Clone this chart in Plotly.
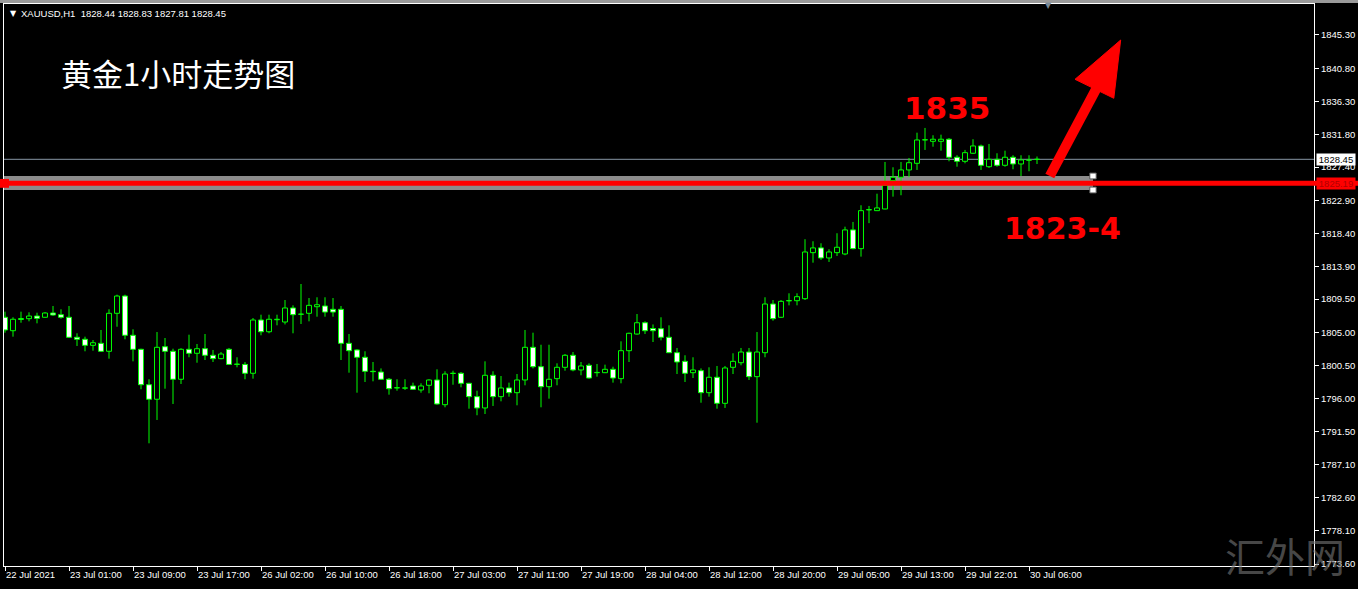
import plotly.graph_objects as go

# ---------------- data ----------------
open_ = [1807.04, 1805.22, 1806.74, 1806.85, 1807.21, 1807.04, 1807.62, 1807.39, 1807.04, 1804.33,
         1804.06, 1803.24, 1803.51, 1802.43, 1807.58, 1809.92, 1804.60, 1802.70, 1797.90, 1795.93,
         1803.05, 1802.43, 1798.64, 1802.70, 1802.16, 1802.78, 1801.89, 1801.43, 1802.70, 1800.65,
         1800.65, 1799.45, 1806.67, 1805.08, 1806.71, 1806.40, 1808.30, 1807.44, 1807.58, 1808.47,
         1808.57, 1808.12, 1808.12, 1803.51, 1802.61, 1801.62, 1799.72, 1799.62, 1798.64, 1797.46,
         1797.43, 1797.73, 1797.19, 1797.82, 1798.54, 1795.19, 1799.42, 1799.45, 1798.09, 1796.28,
         1794.75, 1799.18, 1796.28, 1797.46, 1796.82, 1798.54, 1802.97, 1800.34, 1797.63, 1798.72,
         1800.26, 1801.89, 1799.90, 1800.53, 1799.53, 1799.53, 1799.99, 1798.72, 1802.51, 1804.77,
         1806.30, 1805.52, 1805.49, 1804.33, 1802.24, 1801.07, 1799.53, 1799.80, 1796.82, 1798.91,
         1795.38, 1800.26, 1800.88, 1802.33, 1798.99, 1802.24, 1808.84, 1807.04, 1809.26, 1809.29,
         1809.56, 1815.80, 1816.44, 1815.08, 1815.80, 1815.62, 1818.88, 1816.34, 1821.59, 1821.49,
         1821.72, 1825.56, 1826.02, 1827.01, 1827.91, 1831.07, 1830.89, 1830.89, 1831.17, 1828.73,
         1828.18, 1829.27, 1830.26, 1827.45, 1828.45, 1827.64, 1828.73, 1827.82, 1828.33, 1828.44]
high = [1807.80, 1807.04, 1807.80, 1807.71, 1807.66, 1807.75, 1808.57, 1808.12, 1808.57, 1804.87,
        1804.41, 1803.96, 1805.32, 1808.12, 1810.10, 1810.10, 1805.41, 1802.78, 1798.64, 1805.04,
        1804.23, 1802.78, 1802.85, 1804.68, 1803.42, 1804.77, 1802.61, 1802.33, 1802.88, 1801.62,
        1800.98, 1806.94, 1807.39, 1807.39, 1807.39, 1809.38, 1808.66, 1811.55, 1809.65, 1809.75,
        1809.75, 1809.65, 1808.57, 1804.77, 1802.70, 1802.43, 1800.98, 1800.11, 1798.81, 1798.64,
        1798.64, 1798.18, 1798.09, 1798.64, 1799.99, 1799.72, 1799.80, 1799.62, 1798.15, 1797.09,
        1801.07, 1799.72, 1799.08, 1798.18, 1799.35, 1805.32, 1804.95, 1803.32, 1803.32, 1800.80,
        1802.06, 1802.33, 1800.98, 1800.80, 1800.71, 1800.62, 1800.34, 1803.78, 1804.95, 1807.48,
        1806.49, 1806.07, 1807.04, 1805.95, 1802.88, 1801.89, 1801.62, 1800.11, 1800.26, 1800.44,
        1800.44, 1802.16, 1802.88, 1802.88, 1805.04, 1809.75, 1809.38, 1809.38, 1810.29, 1810.29,
        1817.62, 1817.34, 1817.07, 1816.26, 1818.43, 1819.32, 1819.96, 1822.22, 1822.13, 1823.79,
        1828.09, 1827.37, 1828.09, 1828.63, 1832.06, 1832.70, 1831.71, 1831.79, 1831.34, 1829.00,
        1829.72, 1831.17, 1830.45, 1830.53, 1829.27, 1829.62, 1829.00, 1829.00, 1829.00, 1828.83]
low = [1804.95, 1804.41, 1806.30, 1806.49, 1806.22, 1806.98, 1807.25, 1806.85, 1804.23, 1803.15,
       1802.43, 1802.51, 1802.33, 1801.43, 1805.76, 1804.06, 1801.07, 1797.28, 1789.96, 1793.12,
       1797.36, 1795.29, 1798.00, 1801.62, 1800.88, 1801.25, 1800.98, 1801.35, 1800.60, 1800.26,
       1798.64, 1798.72, 1804.60, 1804.87, 1805.95, 1806.07, 1804.87, 1806.13, 1806.49, 1807.12,
       1807.12, 1807.12, 1801.25, 1799.53, 1796.82, 1798.27, 1798.36, 1798.54, 1796.55, 1797.09,
       1797.19, 1797.19, 1796.82, 1796.74, 1795.19, 1794.84, 1797.90, 1797.55, 1794.65, 1793.76,
       1793.93, 1795.02, 1795.65, 1796.28, 1795.11, 1797.82, 1800.11, 1794.84, 1796.01, 1797.82,
       1799.80, 1799.72, 1799.18, 1798.72, 1798.99, 1799.48, 1798.18, 1798.09, 1800.98, 1804.68,
       1804.77, 1803.69, 1803.91, 1802.20, 1799.35, 1798.27, 1798.81, 1795.46, 1796.28, 1794.65,
       1794.75, 1799.35, 1800.53, 1798.54, 1792.75, 1801.62, 1806.58, 1806.94, 1808.66, 1808.66,
       1809.38, 1814.44, 1814.81, 1814.54, 1815.35, 1815.45, 1816.26, 1815.26, 1819.80, 1821.45,
       1821.68, 1823.39, 1823.58, 1826.02, 1827.01, 1829.72, 1830.16, 1829.62, 1828.18, 1827.45,
       1827.91, 1829.17, 1827.01, 1827.28, 1827.45, 1827.45, 1827.10, 1826.19, 1826.83, 1827.81]
close = [1805.32, 1806.77, 1806.87, 1807.21, 1806.90, 1807.62, 1807.35, 1807.04, 1804.33, 1804.06,
         1803.24, 1803.59, 1802.43, 1807.58, 1809.92, 1804.60, 1802.70, 1797.90, 1795.93, 1802.97,
         1802.43, 1798.64, 1802.70, 1802.16, 1802.78, 1801.89, 1801.43, 1802.06, 1800.65, 1800.70,
         1799.45, 1806.67, 1805.08, 1806.77, 1806.77, 1808.30, 1807.39, 1807.48, 1808.66, 1808.74,
         1807.75, 1807.75, 1803.51, 1802.51, 1801.62, 1799.72, 1799.67, 1798.64, 1797.36, 1797.50,
         1797.47, 1797.28, 1797.73, 1798.54, 1795.29, 1799.35, 1799.46, 1798.09, 1796.28, 1794.75,
         1799.18, 1796.28, 1797.46, 1796.82, 1798.54, 1802.97, 1800.34, 1797.63, 1798.64, 1800.26,
         1801.89, 1799.90, 1800.44, 1798.81, 1799.57, 1799.99, 1798.81, 1802.51, 1804.87, 1806.30,
         1805.22, 1805.22, 1804.33, 1802.24, 1800.98, 1799.45, 1799.90, 1796.82, 1798.91, 1795.38,
         1800.17, 1801.07, 1802.33, 1798.99, 1802.33, 1808.84, 1806.85, 1809.20, 1809.31, 1809.83,
         1815.89, 1816.44, 1815.08, 1815.89, 1816.53, 1818.88, 1816.34, 1821.49, 1821.64, 1821.86,
         1824.93, 1826.02, 1827.01, 1827.99, 1831.07, 1831.11, 1831.17, 1831.17, 1828.73, 1828.18,
         1829.35, 1830.26, 1827.64, 1828.45, 1827.64, 1828.73, 1827.82, 1828.36, 1828.36, 1828.45]

time_labels = ["22 Jul 2021", "23 Jul 01:00", "23 Jul 09:00", "23 Jul 17:00", "26 Jul 02:00",
               "26 Jul 10:00", "26 Jul 18:00", "27 Jul 03:00", "27 Jul 11:00", "27 Jul 19:00",
               "28 Jul 04:00", "28 Jul 12:00", "28 Jul 20:00", "29 Jul 05:00", "29 Jul 13:00",
               "29 Jul 22:01", "30 Jul 06:00"]
label_step = 8
price_ticks = [1773.60, 1778.10, 1782.60, 1787.10, 1791.50, 1796.00, 1800.50, 1805.00, 1809.50,
               1813.90, 1818.40, 1822.90, 1827.40, 1831.80, 1836.30, 1840.80, 1845.30]
last_price = 1828.45
support_price = 1825.19
band_low, band_high = 1824.29, 1826.19
header_text = "XAUUSD,H1\u00a0\u00a01828.44 1828.83 1827.81 1828.45"
title_text = "黄金1小时走势图"
target_text = "1835"
support_text = "1823-4"
watermark_text = "汇外网"

# ---------------- geometry helpers ----------------
W, H = 1358, 589
ML, MR, MT, MB = 4, 44, 4, 23
PW, PH = W - ML - MR, H - MT - MB
X_RANGE = [-0.125, 163.625]
Y_RANGE = [1773.33, 1849.50]


def pxp(x):
    return (x - ML) / PW


def pyp(y):
    return (H - MB - y) / PH


GREEN = "#00ff00"
RED = "#ff0000"

idx = list(range(len(open_)))
body_base = [min(o, c) for o, c in zip(open_, close)]
body_h = [abs(c - o) for o, c in zip(open_, close)]
body_fill = ["#000000" if c >= o else "#ffffff" for o, c in zip(open_, close)]

wick_x, wick_y = [], []
for i, o, h, l, c in zip(idx, open_, high, low, close):
    top, bot = max(o, c), min(o, c)
    wick_x += [i, i, None, i, i, None]
    wick_y += [h, top, None, bot, l, None]

fig = go.Figure()
fig.add_trace(go.Bar(x=idx, y=body_h, base=body_base, width=0.62,
                     marker=dict(color=body_fill, line=dict(color=GREEN, width=1)),
                     hoverinfo="skip", showlegend=False))
fig.add_trace(go.Scatter(x=wick_x, y=wick_y, mode="lines",
                         line=dict(color=GREEN, width=1), hoverinfo="skip", showlegend=False))

shapes = [
    # grey band behind the support line
    dict(type="rect", xref="x", yref="y", x0=X_RANGE[0], x1=136, y0=band_low, y1=band_high,
         fillcolor="#8c8c8c", line=dict(width=0), layer="below"),
    # current price line
    dict(type="line", xref="paper", yref="y", x0=0, x1=1, y0=last_price, y1=last_price,
         line=dict(color="#8796a6", width=1), layer="below"),
    # red support line, running into the price scale
    dict(type="line", xref="paper", yref="y", x0=pxp(0), x1=pxp(W), y0=support_price, y1=support_price,
         line=dict(color=RED, width=5), layer="above"),
    dict(type="rect", xref="paper", yref="y", x0=pxp(0), x1=pxp(9), y0=support_price - 0.6,
         y1=support_price + 0.6, fillcolor=RED, line=dict(width=0)),
    # selection handles
    dict(type="rect", xref="x", yref="y", x0=135.6, x1=136.4, y0=band_high - 0.4, y1=band_high + 0.4,
         fillcolor="#ffffff", line=dict(color="#555555", width=1)),
    dict(type="rect", xref="x", yref="y", x0=135.6, x1=136.4, y0=band_low - 0.4, y1=band_low + 0.4,
         fillcolor="#ffffff", line=dict(color="#555555", width=1)),
    # red arrow: shaft and head
    dict(type="line", xref="x", yref="y", x0=130.6, y0=1826.19, x1=136.6, y1=1838.4,
         line=dict(color=RED, width=10)),
    dict(type="path", xref="x", yref="y",
         path="M 139.46 1844.62 L 133.75 1839.29 L 138.6 1836.72 Z",
         fillcolor=RED, line=dict(color=RED, width=1)),
    # thin grey window chrome on top
    dict(type="rect", xref="paper", yref="paper", x0=pxp(0), x1=pxp(W), y0=pyp(0), y1=pyp(3),
         fillcolor="#9a9a9a", line=dict(width=0)),
]

annotations = [
    dict(xref="paper", yref="paper", x=pxp(8), y=pyp(13), xanchor="left", yanchor="middle",
         text="▼", showarrow=False, font=dict(color="#ffffff", size=8, family="DejaVu Sans")),
    dict(xref="paper", yref="paper", x=pxp(19), y=pyp(13), xanchor="left", yanchor="middle",
         text=header_text, showarrow=False,
         font=dict(color="#ffffff", size=9.5, family="Liberation Sans")),
    dict(xref="paper", yref="paper", x=pxp(1048), y=pyp(6), xanchor="center", yanchor="middle",
         text="▼", showarrow=False, font=dict(color="#7a8a9a", size=8, family="DejaVu Sans")),
    dict(xref="paper", yref="paper", x=pxp(59), y=pyp(72), xanchor="left", yanchor="middle",
         text=title_text, showarrow=False,
         font=dict(color="#ffffff", size=31, family="Noto Sans CJK SC")),
    dict(xref="paper", yref="paper", x=pxp(947), y=pyp(108), xanchor="center", yanchor="middle",
         text="<b>" + target_text + "</b>", showarrow=False,
         font=dict(color=RED, size=31, family="DejaVu Sans")),
    dict(xref="paper", yref="paper", x=pxp(1062), y=pyp(228), xanchor="center", yanchor="middle",
         text="<b>" + support_text + "</b>", showarrow=False,
         font=dict(color=RED, size=30, family="DejaVu Sans")),
    dict(xref="paper", yref="y", x=pxp(1316), y=last_price, xanchor="left", yanchor="middle",
         text=f"{last_price:.2f}", showarrow=False, bgcolor="#ffffff", width=38, height=11,
         borderpad=0, font=dict(color="#000000", size=9.5, family="Liberation Sans")),
    dict(xref="paper", yref="y", x=pxp(1316), y=support_price, xanchor="left", yanchor="middle",
         text=f"{support_price:.2f}", showarrow=False, bgcolor=RED, width=38, height=11,
         borderpad=0, font=dict(color="#b00000", size=9.5, family="Liberation Sans")),
    dict(xref="paper", yref="paper", x=pxp(1285), y=pyp(555), xanchor="center", yanchor="middle",
         text=watermark_text, showarrow=False,
         font=dict(color="rgba(120,120,120,0.6)", size=40, family="Noto Sans CJK SC")),
]

fig.update_layout(
    width=W, height=H, autosize=False,
    margin=dict(l=ML, r=MR, t=MT, b=MB, pad=0),
    paper_bgcolor="#000000", plot_bgcolor="#000000",
    showlegend=False, hovermode=False, barmode="overlay",
    shapes=shapes, annotations=annotations,
    xaxis=dict(range=X_RANGE, tickmode="array", tickvals=idx[::label_step], ticktext=time_labels,
               ticks="outside", ticklen=4, tickcolor="#ffffff", ticklabelposition="outside right",
               tickfont=dict(color="#ffffff", size=9.5, family="Liberation Sans"),
               showgrid=False, zeroline=False, showline=True, linecolor="#ffffff", linewidth=1,
               mirror=True, fixedrange=True, automargin=False),
    yaxis=dict(range=Y_RANGE, side="right", tickmode="array", tickvals=price_ticks,
               ticktext=[f"{v:.2f}" for v in price_ticks],
               ticks="outside", ticklen=4, tickcolor="#ffffff",
               tickfont=dict(color="#ffffff", size=9.5, family="Liberation Sans"),
               showgrid=False, zeroline=False, showline=True, linecolor="#ffffff", linewidth=1,
               mirror=True, fixedrange=True, automargin=False),
)

fig.write_html(
    "out.html",
    config={"displayModeBar": False, "responsive": False},
    post_script="document.body.style.margin='0';document.body.style.padding='0';"
                "document.body.style.overflow='hidden';document.body.style.background='#000';",
)
